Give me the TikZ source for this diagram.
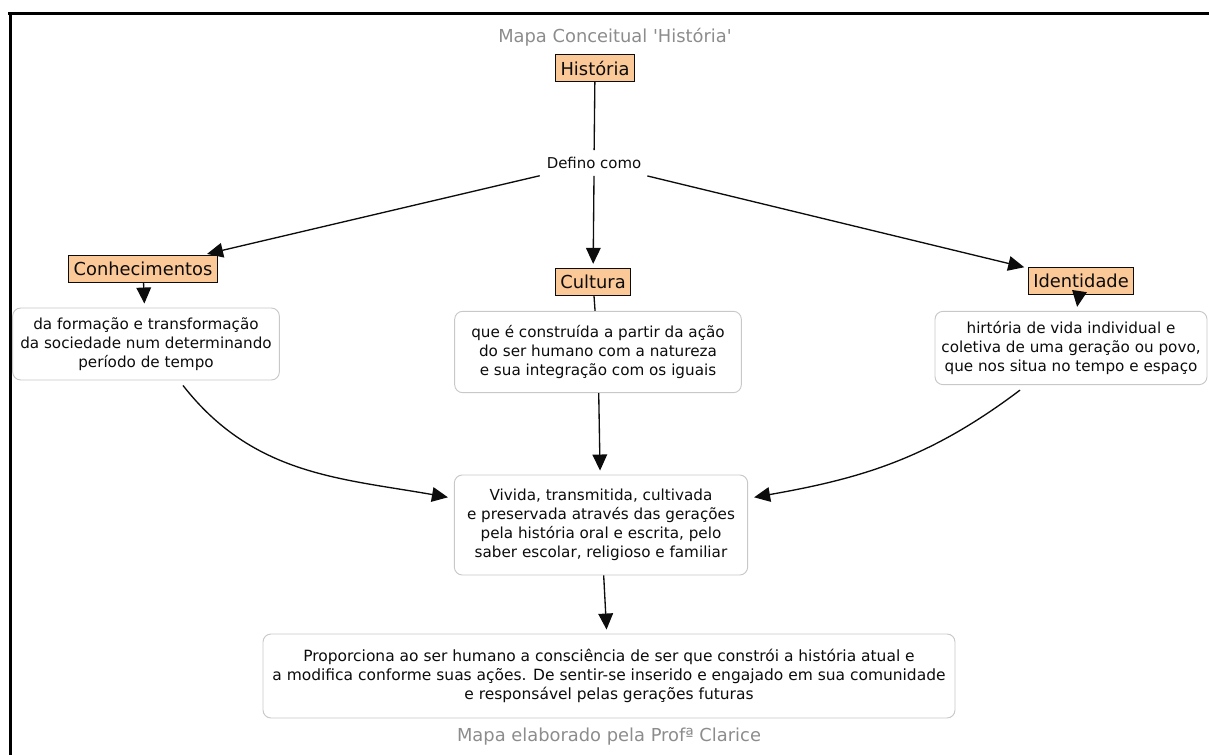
\documentclass[tikz,border=0pt]{standalone}
\usepackage{fontspec}
\setmainfont{DejaVu Sans}
\usetikzlibrary{arrows.meta,calc}
\definecolor{peach}{RGB}{251,200,152}
\definecolor{boxline}{RGB}{200,200,200}
\definecolor{caption}{RGB}{140,140,140}
\definecolor{ink}{RGB}{12,12,12}
\begin{document}
\begin{tikzpicture}[x=0.75pt,y=-0.75pt,
  concept/.style={draw=ink,line width=0.7pt,fill=peach,inner xsep=3.5pt,inner ysep=0pt,
    minimum height=20.5pt,font=\fontsize{13.4}{16}\selectfont,text=ink},
  phrase/.style={draw=boxline,line width=0.7pt,rounded corners=6pt,fill=white,align=center,
    font=\fontsize{11.4}{14.2}\selectfont,text=ink,inner sep=0pt},
  linkword/.style={font=\fontsize{11.2}{14}\selectfont,text=ink,minimum width=81pt,minimum height=19pt,inner sep=0pt},
  note/.style={font=\fontsize{13.4}{16}\selectfont,text=caption},
  conn/.style={draw=ink,line width=1pt},
  arr/.style={conn,-{Triangle[length=12pt,width=11pt]},shorten >=3pt}]
\useasboundingbox (0,0) rectangle (1209,755);

% frame lines along the top and left edges
\draw[line width=2.4pt] (8,13.5) -- (1209,13.5);
\draw[line width=2.4pt] (10.5,13) -- (10.5,755);

% captions
\node[note] (title) at (615,37) {Mapa Conceitual \textquotesingle História\textquotesingle};
\node[note] (credit) at (609,737) {Mapa elaborado pela Profª Clarice};

% concepts
\node[concept] (historia) at (595,68) {História};
\node[linkword] (defino) at (594,163) {Defino como};
\node[concept] (conhec) at (143,269) {Conhecimentos};
\node[concept] (cultura) at (593,282) {Cultura};
\node[concept] (ident) at (1081,281) {Identidade};

% descriptions
\node[phrase,minimum width=200pt,minimum height=54pt] (conhecdesc) at (146,344)
  {da formação e transformação\\da sociedade num determinando\\período de tempo};
\node[phrase,minimum width=215pt,minimum height=61pt] (culturadesc) at (598,352)
  {que é construída a partir da ação\\do ser humano com a natureza\\e sua integração com os iguais};
\node[phrase,minimum width=204pt,minimum height=55pt] (identdesc) at (1071,348)
  {hirtória de vida individual e\\coletiva de uma geração ou povo,\\que nos situa no tempo e espaço};
\node[phrase,minimum width=220pt,minimum height=75pt] (vivida) at (601,525)
  {Vivida, transmitida, cultivada\\e preservada através das gerações\\pela história oral e escrita, pelo\\saber escolar, religioso e familiar};
\node[phrase,minimum width=519pt,minimum height=63pt,font=\fontsize{11.6}{14.2}\selectfont] (final) at (609,676)
  {Proporciona ao ser humano a consciência de ser que constrói a história atual e\\a modifica conforme suas ações. De sentir-se inserido e engajado em sua comunidade\\e responsável pelas gerações futuras};

% connections
\draw[conn] (historia) -- (defino);
\draw[arr] (defino) -- (conhec);
\draw[arr] (defino.south) -- (cultura);
\draw[arr] (defino) -- (ident);
\draw[arr] (conhec) -- (conhecdesc);
\draw[conn] (cultura) -- (culturadesc);
\draw[arr] (ident) -- (identdesc);
\draw[arr] (culturadesc) -- (vivida);
\draw[arr] ($(conhecdesc.south)+(37,5)$) to[out=-52,in=170] ($(vivida.west)+(-2,-27)$);
\draw[arr] ($(identdesc.south)+(-51,5)$) to[out=-143,in=10] ($(vivida.east)+(2,-27)$);
\draw[arr] (vivida) -- (final);
\end{tikzpicture}
\end{document}
